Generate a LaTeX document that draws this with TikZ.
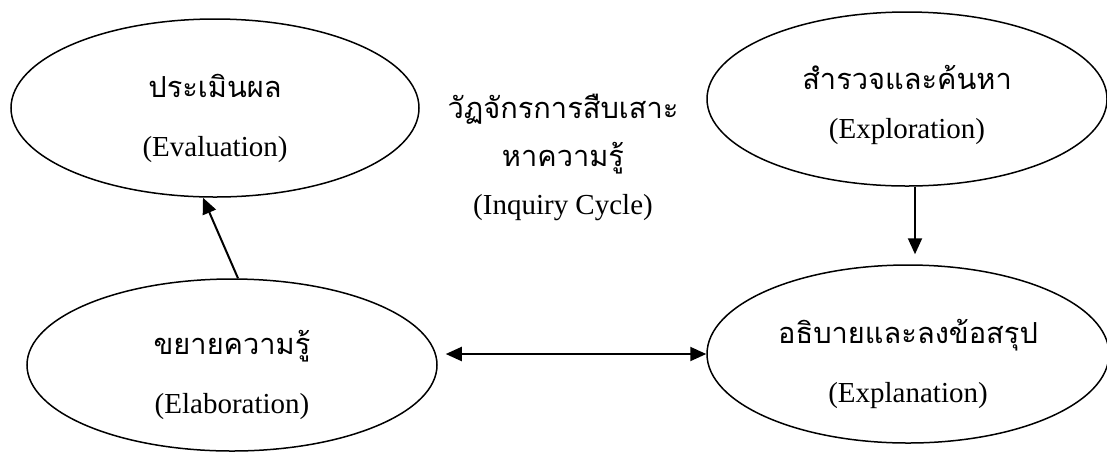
\documentclass[tikz,border=0pt]{standalone}
\usepackage{fontspec}
\setmainfont{Liberation Serif}
\newfontfamily\thaifont[Script=Thai]{Loma}
\usetikzlibrary{arrows.meta,shapes.geometric}
\newcommand\lowerstrut[1][22pt]{\rule{0pt}{#1}}

\begin{document}
\begin{tikzpicture}[x=0.5pt, y=-0.5pt, font=\fontsize{14.5}{17}\selectfont,
  phase/.style={draw, ellipse, line width=0.75pt, inner sep=0pt, align=center},
  arrow/.style={-{Triangle[length=8pt,width=7pt]}, line width=1pt}]
\useasboundingbox (0,0) rectangle (1107,452);
\node[phase, minimum width=204pt, minimum height=89pt] (eval) at (215,108) {\lowerstrut{\thaifont ประเมินผล}\\[12.5pt](Evaluation)};
\node[phase, minimum width=200pt, minimum height=87pt] (explore) at (907,99) {\lowerstrut[18pt]{\thaifont สำรวจและค้นหา}\\[7.5pt](Exploration)};
\node[phase, minimum width=205pt, minimum height=86pt] (elab) at (232,365) {\lowerstrut{\thaifont ขยายความรู้}\\[12.5pt](Elaboration)};
\node[phase, minimum width=201pt, minimum height=89pt] (explain) at (908,354) {\lowerstrut{\thaifont อธิบายและลงข้อสรุป}\\[12.5pt](Explanation)};
\node[align=center] (cycle) at (563,157) {{\thaifont วัฏจักรการสืบเสาะ}\\[7pt]{\thaifont หาความรู้}\\[7pt](Inquiry Cycle)};
\draw[arrow, shorten >=5pt] ([xshift=4pt]explore.south) -- ([xshift=4pt]explore.south |- explain.north);
\draw[arrow] ([xshift=3pt]elab.north) -- ([xshift=-6pt]eval.south);
\draw[arrow, {Triangle[length=8pt,width=7pt]}-{Triangle[length=8pt,width=7pt]}, shorten <=4pt] (elab.east |- explain.west) -- (explain.west);
\end{tikzpicture}
\end{document}
